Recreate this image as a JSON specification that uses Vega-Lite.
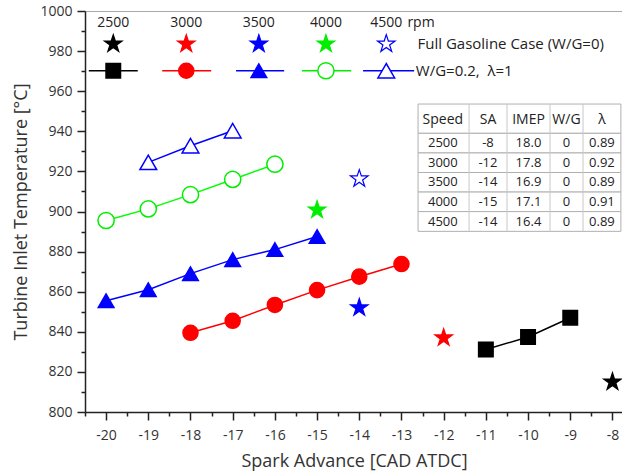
{
  "$schema": "https://vega.github.io/schema/vega-lite/v6.json",
  "width": 538,
  "height": 401,
  "autosize": {"type": "none"},
  "padding": {"left": 85, "top": 11, "right": 0, "bottom": 62},
  "background": "white",
  "config": {
    "view": {"stroke": "#aaaaaa", "strokeWidth": 1},
    "font": "Open Sans",
    "text": {"color": "#222222"}
  },
  "datasets": {
    "points": [
      {"rpm": "2500", "sa": -11, "temp": 831.2, "case": "W/G=0.2"},
      {"rpm": "2500", "sa": -10, "temp": 837.4, "case": "W/G=0.2"},
      {"rpm": "2500", "sa": -9, "temp": 847.0, "case": "W/G=0.2"},
      {"rpm": "3000", "sa": -18, "temp": 839.5, "case": "W/G=0.2"},
      {"rpm": "3000", "sa": -17, "temp": 845.5, "case": "W/G=0.2"},
      {"rpm": "3000", "sa": -16, "temp": 853.4, "case": "W/G=0.2"},
      {"rpm": "3000", "sa": -15, "temp": 860.8, "case": "W/G=0.2"},
      {"rpm": "3000", "sa": -14, "temp": 867.5, "case": "W/G=0.2"},
      {"rpm": "3000", "sa": -13, "temp": 873.8, "case": "W/G=0.2"},
      {"rpm": "3500", "sa": -20, "temp": 855.5, "case": "W/G=0.2"},
      {"rpm": "3500", "sa": -19, "temp": 861.0, "case": "W/G=0.2"},
      {"rpm": "3500", "sa": -18, "temp": 869.0, "case": "W/G=0.2"},
      {"rpm": "3500", "sa": -17, "temp": 876.0, "case": "W/G=0.2"},
      {"rpm": "3500", "sa": -16, "temp": 881.0, "case": "W/G=0.2"},
      {"rpm": "3500", "sa": -15, "temp": 887.5, "case": "W/G=0.2"},
      {"rpm": "4000", "sa": -20, "temp": 895.5, "case": "W/G=0.2"},
      {"rpm": "4000", "sa": -19, "temp": 901.3, "case": "W/G=0.2"},
      {"rpm": "4000", "sa": -18, "temp": 908.4, "case": "W/G=0.2"},
      {"rpm": "4000", "sa": -17, "temp": 916.0, "case": "W/G=0.2"},
      {"rpm": "4000", "sa": -16, "temp": 923.6, "case": "W/G=0.2"},
      {"rpm": "4500", "sa": -19, "temp": 924.5, "case": "W/G=0.2"},
      {"rpm": "4500", "sa": -18, "temp": 932.8, "case": "W/G=0.2"},
      {"rpm": "4500", "sa": -17, "temp": 940.3, "case": "W/G=0.2"},
      {"rpm": "2500", "sa": -8, "temp": 815.0, "case": "Full"},
      {"rpm": "3000", "sa": -12, "temp": 837.0, "case": "Full"},
      {"rpm": "3500", "sa": -14, "temp": 852.0, "case": "Full"},
      {"rpm": "4000", "sa": -15, "temp": 900.8, "case": "Full"},
      {"rpm": "4500", "sa": -14, "temp": 916.3, "case": "Full"}
    ],
    "legend": [
      {"rpm": "2500", "lx": -19.83, "x1": -20.41, "x2": -19.25},
      {"rpm": "3000", "lx": -18.10, "x1": -18.67, "x2": -17.51},
      {"rpm": "3500", "lx": -16.38, "x1": -16.92, "x2": -15.78},
      {"rpm": "4000", "lx": -14.79, "x1": -15.36, "x2": -14.19},
      {"rpm": "4500", "lx": -13.36, "x1": -13.91, "x2": -12.70}
    ],
    "table": [
      {"Speed": "Speed", "SA": "SA", "IMEP": "IMEP", "WG": "W/G", "lam": "λ", "ty": 945.6, "top": 953.6, "bot": 939.0},
      {"Speed": "2500", "SA": "-8", "IMEP": "18.0", "WG": "0", "lam": "0.89", "ty": 934.1, "top": 939.0, "bot": 929.2},
      {"Speed": "3000", "SA": "-12", "IMEP": "17.8", "WG": "0", "lam": "0.92", "ty": 924.3, "top": 929.2, "bot": 919.45},
      {"Speed": "3500", "SA": "-14", "IMEP": "16.9", "WG": "0", "lam": "0.89", "ty": 914.6, "top": 919.45, "bot": 909.7},
      {"Speed": "4000", "SA": "-15", "IMEP": "17.1", "WG": "0", "lam": "0.91", "ty": 904.8, "top": 909.7, "bot": 899.95},
      {"Speed": "4500", "SA": "-14", "IMEP": "16.4", "WG": "0", "lam": "0.89", "ty": 895.0, "top": 899.95, "bot": 890.1}
    ]
  },
  "layer": [
    {
      "data": {"name": "points"},
      "transform": [{"filter": "datum.case === 'W/G=0.2'"}],
      "mark": {"type": "line", "strokeWidth": 1.5},
      "encoding": {
        "x": {
          "field": "sa", "type": "quantitative",
          "scale": {"domain": [-20.5, -7.75], "nice": false, "zero": false},
          "axis": {
            "values": [-20, -19, -18, -17, -16, -15, -14, -13, -12, -11, -10, -9, -8],
            "labelExpr": "replace(datum.label, '\u2212', '-')",
            "tickSize": 8,
            "labelOverlap": false, "labelFlush": false,
            "grid": false,
            "domainColor": "#222222", "domainWidth": 1.5,
            "tickColor": "#222222", "tickWidth": 1.5,
            "labelFontSize": 14, "labelColor": "#333333", "labelPadding": 8,
            "title": "Spark Advance [CAD ATDC]",
            "titleFontSize": 18, "titleFontWeight": "normal", "titleColor": "#333333", "titlePadding": 10
          }
        },
        "y": {
          "field": "temp", "type": "quantitative",
          "scale": {"domain": [800, 1000], "nice": false, "zero": false},
          "axis": {
            "values": [800, 820, 840, 860, 880, 900, 920, 940, 960, 980, 1000],
            "format": "d",
            "tickSize": 8,
            "labelOverlap": false, "labelFlush": false,
            "grid": false,
            "domainColor": "#222222", "domainWidth": 1.5,
            "tickColor": "#222222", "tickWidth": 1.5,
            "labelFontSize": 14, "labelColor": "#333333", "labelPadding": 5,
            "title": "Turbine Inlet Temperature [°C]",
            "titleFontSize": 18, "titleFontWeight": "normal", "titleColor": "#333333", "titlePadding": 9
          }
        },
        "color": {
          "field": "rpm", "type": "nominal", "legend": null,
          "scale": {"domain": ["2500", "3000", "3500", "4000", "4500"], "range": ["#000000", "#ff0000", "#0000ff", "#00ff00", "#0000ff"]}
        },
        "detail": {"field": "rpm"}
      }
    },
    {
      "data": {"name": "points"},
      "transform": [{"filter": "datum.case === 'W/G=0.2'"}],
      "mark": {"type": "point", "filled": true, "opacity": 1, "strokeWidth": 1.5},
      "encoding": {
        "x": {"field": "sa", "type": "quantitative",
          "axis": {"orient": "bottom", "values": [-20.5, -19.5, -18.5, -17.5, -16.5, -15.5, -14.5, -13.5, -12.5, -11.5, -10.5, -9.5, -8.5], "labels": false, "domain": false, "grid": false, "tickSize": 4, "tickWidth": 1.5, "tickColor": "#222222", "title": null}},
        "y": {"field": "temp", "type": "quantitative",
          "axis": {"orient": "left", "values": [810, 830, 850, 870, 890, 910, 930, 950, 970, 990], "labels": false, "domain": false, "grid": false, "tickSize": 4, "tickWidth": 1.5, "tickColor": "#222222", "title": null}},
        "shape": {"field": "rpm", "type": "nominal", "legend": null,
          "scale": {"domain": ["2500", "3000", "3500", "4000", "4500"], "range": ["square", "circle", "triangle-up", "circle", "triangle-up"]}},
        "fill": {"field": "rpm", "type": "nominal", "legend": null,
          "scale": {"domain": ["2500", "3000", "3500", "4000", "4500"], "range": ["#000000", "#ff0000", "#0000ff", "#ffffff", "#ffffff"]}},
        "stroke": {"field": "rpm", "type": "nominal", "legend": null,
          "scale": {"domain": ["2500", "3000", "3500", "4000", "4500"], "range": ["#000000", "#ff0000", "#0000ff", "#00ee00", "#0000ff"]}},
        "size": {"field": "rpm", "type": "nominal", "legend": null,
          "scale": {"domain": ["2500", "3000", "3500", "4000", "4500"], "range": [210, 280, 330, 270, 330]}}
      }
    },
    {
      "data": {"name": "points"},
      "transform": [{"filter": "datum.case === 'Full'"}],
      "mark": {"type": "point", "filled": true, "opacity": 1, "strokeWidth": 1.2, "size": 340,
        "shape": "M0,-1L0.2245,-0.309L0.951,-0.309L0.363,0.118L0.588,0.809L0,0.382L-0.588,0.809L-0.363,0.118L-0.951,-0.309L-0.2245,-0.309Z"},
      "encoding": {
        "x": {"field": "sa", "type": "quantitative", "axis": null},
        "y": {"field": "temp", "type": "quantitative", "axis": null},
        "fill": {"field": "rpm", "type": "nominal", "legend": null,
          "scale": {"domain": ["2500", "3000", "3500", "4000", "4500"], "range": ["#000000", "#ff0000", "#0000ff", "#00ee00", "#ffffff"]}},
        "stroke": {"field": "rpm", "type": "nominal", "legend": null,
          "scale": {"domain": ["2500", "3000", "3500", "4000", "4500"], "range": ["#000000", "#ff0000", "#0000ff", "#00ee00", "#0000ff"]}}
      }
    },
    {
      "data": {"name": "legend"},
      "mark": {"type": "text", "fontSize": 14, "baseline": "middle", "align": "center"},
      "encoding": {
        "x": {"field": "lx", "type": "quantitative", "axis": null},
        "y": {"datum": 994.2, "axis": null},
        "text": {"field": "rpm"}
      }
    },
    {
      "data": {"values": [{}]},
      "mark": {"type": "text", "fontSize": 14, "baseline": "middle", "align": "left"},
      "encoding": {
        "x": {"datum": -12.86, "axis": null},
        "y": {"datum": 994.2, "axis": null},
        "text": {"value": "rpm"}
      }
    },
    {
      "data": {"name": "legend"},
      "mark": {"type": "point", "filled": true, "opacity": 1, "strokeWidth": 1.2, "size": 340,
        "shape": "M0,-1L0.2245,-0.309L0.951,-0.309L0.363,0.118L0.588,0.809L0,0.382L-0.588,0.809L-0.363,0.118L-0.951,-0.309L-0.2245,-0.309Z"},
      "encoding": {
        "x": {"field": "lx", "type": "quantitative", "axis": null},
        "y": {"datum": 983.6, "axis": null},
        "fill": {"field": "rpm", "type": "nominal", "legend": null,
          "scale": {"domain": ["2500", "3000", "3500", "4000", "4500"], "range": ["#000000", "#ff0000", "#0000ff", "#00ee00", "#ffffff"]}},
        "stroke": {"field": "rpm", "type": "nominal", "legend": null,
          "scale": {"domain": ["2500", "3000", "3500", "4000", "4500"], "range": ["#000000", "#ff0000", "#0000ff", "#00ee00", "#0000ff"]}}
      }
    },
    {
      "data": {"name": "legend"},
      "mark": {"type": "rule", "strokeWidth": 1.5},
      "encoding": {
        "x": {"field": "x1", "type": "quantitative", "axis": null},
        "x2": {"field": "x2"},
        "y": {"datum": 970.2, "axis": null},
        "stroke": {"field": "rpm", "type": "nominal", "legend": null,
          "scale": {"domain": ["2500", "3000", "3500", "4000", "4500"], "range": ["#000000", "#ff0000", "#0000ff", "#00ee00", "#0000ff"]}}
      }
    },
    {
      "data": {"name": "legend"},
      "mark": {"type": "point", "filled": true, "opacity": 1, "strokeWidth": 1.5},
      "encoding": {
        "x": {"field": "lx", "type": "quantitative", "axis": null},
        "y": {"datum": 970.2, "axis": null},
        "shape": {"field": "rpm", "type": "nominal", "legend": null,
          "scale": {"domain": ["2500", "3000", "3500", "4000", "4500"], "range": ["square", "circle", "triangle-up", "circle", "triangle-up"]}},
        "fill": {"field": "rpm", "type": "nominal", "legend": null,
          "scale": {"domain": ["2500", "3000", "3500", "4000", "4500"], "range": ["#000000", "#ff0000", "#0000ff", "#ffffff", "#ffffff"]}},
        "stroke": {"field": "rpm", "type": "nominal", "legend": null,
          "scale": {"domain": ["2500", "3000", "3500", "4000", "4500"], "range": ["#000000", "#ff0000", "#0000ff", "#00ee00", "#0000ff"]}},
        "size": {"field": "rpm", "type": "nominal", "legend": null,
          "scale": {"domain": ["2500", "3000", "3500", "4000", "4500"], "range": [210, 280, 330, 270, 330]}}
      }
    },
    {
      "data": {"values": [{}]},
      "mark": {"type": "text", "fontSize": 15, "baseline": "middle", "align": "left"},
      "encoding": {
        "x": {"datum": -12.62, "axis": null},
        "y": {"datum": 983.6, "axis": null},
        "text": {"value": "Full Gasoline Case (W/G=0)"}
      }
    },
    {
      "data": {"values": [{}]},
      "mark": {"type": "text", "fontSize": 15, "baseline": "middle", "align": "left"},
      "encoding": {
        "x": {"datum": -12.66, "axis": null},
        "y": {"datum": 970.2, "axis": null},
        "text": {"value": "W/G=0.2,\u00a0\u00a0λ=1"}
      }
    },
    {
      "data": {"name": "table"},
      "mark": {"type": "rect", "fill": "#ffffff", "stroke": "#b0b0b0", "strokeWidth": 1},
      "encoding": {
        "x": {"datum": -12.607, "axis": null},
        "x2": {"datum": -7.8},
        "y": {"field": "top", "type": "quantitative", "axis": null},
        "y2": {"field": "bot"}
      }
    },
    {
      "data": {"values": [{"vx": -11.398}, {"vx": -10.498}, {"vx": -9.479}, {"vx": -8.697}]},
      "mark": {"type": "rule", "stroke": "#c8c8c8", "strokeWidth": 1},
      "encoding": {
        "x": {"field": "vx", "type": "quantitative", "axis": null},
        "y": {"datum": 953.6, "axis": null},
        "y2": {"datum": 890.1}
      }
    },
    {
      "data": {"name": "table"},
      "mark": {"type": "text", "baseline": "middle", "align": "center"},
      "encoding": {
        "x": {"datum": -12.02, "axis": null},
        "y": {"field": "ty", "type": "quantitative", "axis": null},
        "text": {"field": "Speed"},
        "size": {"condition": {"test": "datum.Speed === 'Speed'", "value": 14}, "value": 13}
      }
    },
    {
      "data": {"name": "table"},
      "mark": {"type": "text", "baseline": "middle", "align": "center"},
      "encoding": {
        "x": {"datum": -10.95, "axis": null},
        "y": {"field": "ty", "type": "quantitative", "axis": null},
        "text": {"field": "SA"},
        "size": {"condition": {"test": "datum.Speed === 'Speed'", "value": 14}, "value": 13}
      }
    },
    {
      "data": {"name": "table"},
      "mark": {"type": "text", "baseline": "middle", "align": "center"},
      "encoding": {
        "x": {"datum": -9.99, "axis": null},
        "y": {"field": "ty", "type": "quantitative", "axis": null},
        "text": {"field": "IMEP"},
        "size": {"condition": {"test": "datum.Speed === 'Speed'", "value": 14}, "value": 13}
      }
    },
    {
      "data": {"name": "table"},
      "mark": {"type": "text", "baseline": "middle", "align": "center"},
      "encoding": {
        "x": {"datum": -9.09, "axis": null},
        "y": {"field": "ty", "type": "quantitative", "axis": null},
        "text": {"field": "WG"},
        "size": {"condition": {"test": "datum.Speed === 'Speed'", "value": 14}, "value": 13}
      }
    },
    {
      "data": {"name": "table"},
      "mark": {"type": "text", "baseline": "middle", "align": "center"},
      "encoding": {
        "x": {"datum": -8.25, "axis": null},
        "y": {"field": "ty", "type": "quantitative", "axis": null},
        "text": {"field": "lam"},
        "size": {"condition": {"test": "datum.Speed === 'Speed'", "value": 14}, "value": 13}
      }
    }
  ],
  "resolve": {
    "scale": {"fill": "independent", "stroke": "independent", "shape": "independent", "color": "independent", "size": "independent"},
    "axis": {"x": "independent", "y": "independent"}
  }
}
